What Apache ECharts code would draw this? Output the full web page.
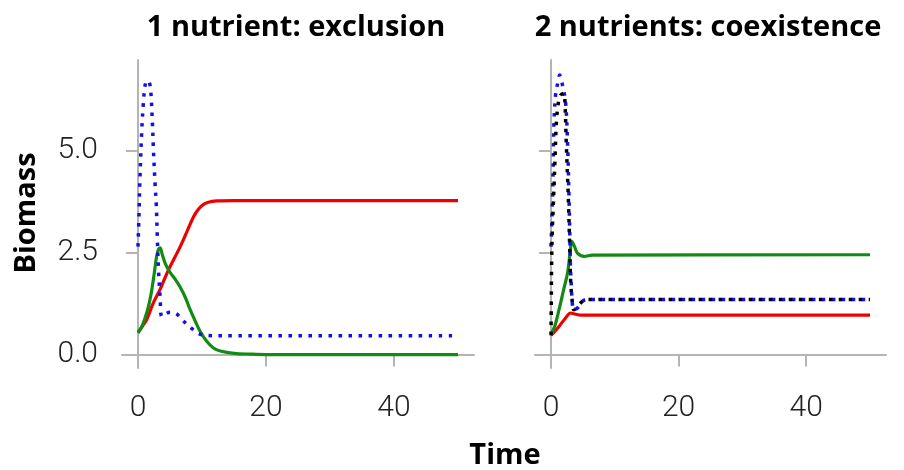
<!DOCTYPE html>
<html>
<head>
<meta charset="utf-8">
<script src="https://cdn.jsdelivr.net/npm/echarts@6/dist/echarts.min.js"></script>
<style>html,body{margin:0;padding:0;background:#fff}#c{width:904px;height:470px}</style>
</head>
<body>
<div id="c"></div>
<script>
// ---- data (time, biomass) ----
var panelTitles = ["1 nutrient: exclusion", "2 nutrients: coexistence"];
var xTicks = [0, 20, 40];
var yTicks = [0, 2.5, 5];
var yLabel = "Biomass";
var xLabel = "Time";

var leftBlue = [[0,2.65],[0.15,3.4],[0.3,4.3],[0.58,5.47],[0.84,6.17],[1.1,6.6],[1.4,6.72],[1.73,6.7],[1.99,6.47],[2.23,5.76],[2.4,5.07],[2.67,4.17],[2.85,3.7],[3.03,2.82],[3.2,2.08],[3.45,1.43],[3.7,0.94],[4.2,0.99],[5.0,1.04],[6.0,1.0],[6.85,0.86],[8.05,0.69],[9.3,0.53],[10.7,0.47],[13,0.46],[50,0.46]];
var leftRed = [[0,0.55],[0.7,0.7],[1.36,0.86],[2.4,1.27],[3.45,1.6],[4.76,2.08],[5.7,2.37],[6.6,2.65],[7.6,3.0],[8.7,3.39],[9.5,3.58],[10.2,3.68],[11,3.74],[12.3,3.77],[15,3.78],[50,3.78]];
var leftGreen = [[0,0.53],[0.5,0.65],[1.0,0.85],[1.5,1.1],[2.0,1.45],[2.5,1.95],[2.9,2.4],[3.2,2.58],[3.45,2.62],[3.8,2.45],[4.3,2.22],[5.0,2.02],[5.8,1.85],[6.6,1.65],[7.4,1.4],[8.15,1.1],[9.0,0.8],[9.7,0.57],[10.7,0.33],[11.8,0.16],[13,0.08],[15,0.03],[17.6,0.01],[20,0],[50,0]];

var rightBlue = [[0,2.65],[0.15,3.3],[0.25,3.9],[0.37,4.78],[0.47,5.67],[0.74,6.41],[1.0,6.62],[1.37,6.86],[1.8,6.62],[2.3,6.17],[2.6,5.19],[2.84,3.8],[3.0,2.6],[3.15,1.8],[3.6,1.1],[4.15,1.14],[4.95,1.31],[5.6,1.35],[50,1.35]];
var rightBlack = [[0,0.32],[0.05,1.2],[0.1,2.2],[0.2,3.0],[0.35,3.6],[0.5,4.2],[0.63,4.78],[0.84,5.67],[1.15,6.17],[1.53,6.37],[2.05,6.41],[2.2,6.17],[2.4,5.19],[2.73,3.8],[2.95,2.57],[3.1,1.76],[3.36,1.27],[3.6,1.1],[4.4,1.23],[5.5,1.35],[50,1.35]];
var rightRed = [[0,0.47],[0.6,0.57],[1.26,0.69],[2.2,0.88],[3.1,1.02],[3.6,1.0],[4.5,0.97],[50,0.97]];
var rightGreen = [[0,0.49],[0.6,0.7],[1.26,1.1],[2.0,1.6],[2.6,2.0],[3.0,2.5],[3.27,2.78],[3.7,2.65],[4.15,2.49],[5.2,2.41],[6.5,2.44],[50,2.45]];

// ---- styling ----
var axisGray = '#b4b4b4';
var tickFont = 'Roboto';
var headFont = '"Open Sans"';
var RED = '#ee0000', GREEN = '#138a13', BLUE = '#1010ee', BLACK = '#000000';

function xAx(gi) {
  return {
    type: 'value', gridIndex: gi, min: -2.5, max: 52.5,
    splitLine: {show: false},
    axisLine: {show: true, lineStyle: {color: axisGray, width: 2}},
    axisTick: {show: true, length: 12, customValues: xTicks, lineStyle: {color: axisGray, width: 2}},
    axisLabel: {show: true, customValues: xTicks, margin: 25, fontFamily: tickFont, fontWeight: 300, fontSize: 30, color: '#222'}
  };
}
function yAx(gi, labels) {
  return {
    type: 'value', gridIndex: gi, min: -0.33, max: 7.23,
    splitLine: {show: false},
    axisLine: {show: true, lineStyle: {color: axisGray, width: 2}},
    axisTick: {show: true, length: 12, customValues: yTicks, lineStyle: {color: axisGray, width: 2}},
    axisLabel: {show: labels, customValues: yTicks, margin: 24, fontFamily: tickFont, fontWeight: 300, fontSize: 30, color: '#222',
      formatter: function (v) { return v.toFixed(1); }}
  };
}
function line(gi, data, color, dotted, offset) {
  return {
    type: 'line', xAxisIndex: gi, yAxisIndex: gi, data: data, showSymbol: false, symbol: 'none',
    smooth: 0.35, animation: false,
    lineStyle: dotted ? {color: color, width: 3.5, type: [3.5, 6.5], dashOffset: offset || 0, cap: 'butt'} : {color: color, width: 3.2}
  };
}

var chart = echarts.init(document.getElementById('c'), null, {renderer: 'canvas'});
chart.setOption({
  animation: false,
  backgroundColor: '#fff',
  grid: [
    {left: 122, top: 60, width: 352, height: 308},
    {left: 535, top: 60, width: 351, height: 308}
  ],
  xAxis: [xAx(0), xAx(1)],
  yAxis: [yAx(0, true), yAx(1, false)],
  series: [
    line(0, leftRed, RED, false),
    line(0, leftGreen, GREEN, false),
    line(0, leftBlue, BLUE, true),
    line(1, rightRed, RED, false),
    line(1, rightGreen, GREEN, false),
    line(1, rightBlue, BLUE, true, 0),
    line(1, rightBlack, BLACK, true, 3.5)
  ],
  graphic: [
    {type: 'text', x: 296, y: 28, style: {text: panelTitles[0], font: 'bold 29px ' + headFont, fill: '#000', textAlign: 'center', textVerticalAlign: 'middle'}},
    {type: 'text', x: 708, y: 28, style: {text: panelTitles[1], font: 'bold 29px ' + headFont, fill: '#000', textAlign: 'center', textVerticalAlign: 'middle'}},
    {type: 'text', x: 505, y: 456, style: {text: xLabel, font: 'bold 29px ' + headFont, fill: '#000', textAlign: 'center', textVerticalAlign: 'middle'}},
    {type: 'text', x: 27, y: 213, rotation: Math.PI / 2, style: {text: yLabel, font: 'bold 29px ' + headFont, fill: '#000', textAlign: 'center', textVerticalAlign: 'middle'}}
  ]
});
</script>
</body>
</html>
